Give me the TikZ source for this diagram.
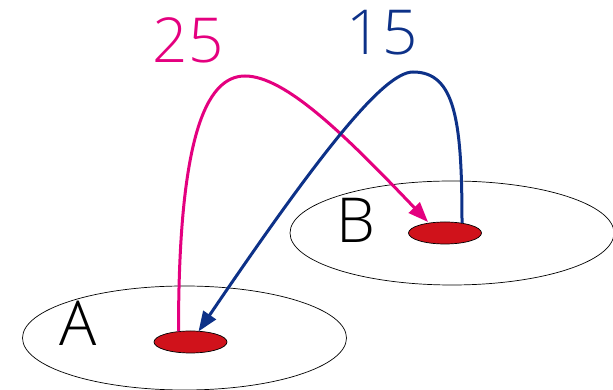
\documentclass[tikz,border=0pt]{standalone}
\usepackage{fontspec}
\setmainfont{Open Sans}[UprightFont=* Light]
\usetikzlibrary{shapes.geometric,arrows.meta,calc}
\definecolor{pinkc}{HTML}{E4007F}
\definecolor{bluec}{HTML}{0D3188}
\definecolor{redc}{HTML}{D0121B}
\tikzset{
  region/.style={ellipse,draw=black,line width=0.7pt,inner sep=0pt,minimum width=324pt,minimum height=104pt},
  spot/.style={ellipse,draw=black,fill=redc,line width=0.7pt,inner sep=0pt,minimum width=73pt,minimum height=22pt},
  bigtext/.style={font=\fontsize{62}{62}\selectfont,inner sep=0pt},
  flow/.style={line width=3pt,-{Triangle[length=20pt,width=15pt]}}
}
\begin{document}
\begin{tikzpicture}[x=1pt,y=1pt]
\useasboundingbox (0,0) rectangle (613,390);
\node[region] (regA) at (184.5,52) {};
\node[region] (regB) at (452,157) {};
\node[spot] (dotA) at (190.5,48) {};
\node[spot] (dotB) at (445,157) {};
\node[bigtext] (labA) at (78,67) {A};
\node[bigtext] (labB) at (356,170) {B};
\node[bigtext,text=pinkc] (n25) at (188,350) {25};
\node[bigtext,text=bluec] (n15) at (382,357) {15};
\coordinate (pstart) at ($(dotA.center)+(-12,10.5)$);
\coordinate (pend) at ($(dotB.center)+(-17,11)$);
\coordinate (bstart) at ($(dotB.center)+(17,10)$);
\coordinate (bend) at ($(dotA.center)+(8,10.5)$);
\draw[flow,color=pinkc]
  (pstart) .. controls ($(pstart)+(0,191)$) and (205,314) .. (245,314)
  .. controls (285,314) and (345,255) .. (pend);
\draw[flow,color=bluec]
  (bstart) .. controls ($(bstart)+(0,103)$) and (455,318) .. (413,318)
  .. controls (385,318) and (325,245) .. (bend);
\end{tikzpicture}
\end{document}
